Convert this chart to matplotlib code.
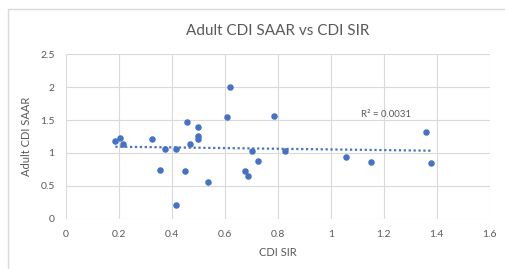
import numpy as np
import matplotlib
matplotlib.use("Agg")
from matplotlib import pyplot as plt
from matplotlib.patches import Rectangle

# data
cdi_sir = [0.187, 0.206, 0.215, 0.326, 0.356, 0.375, 0.416, 0.416, 0.449, 0.457,
           0.468, 0.499, 0.499, 0.499, 0.535, 0.608, 0.618, 0.678, 0.686, 0.704,
           0.727, 0.787, 0.828, 1.057, 1.150, 1.360, 1.379]
cdi_saar = [1.176, 1.232, 1.136, 1.212, 0.745, 1.065, 1.065, 0.213, 0.730, 1.470,
            1.136, 1.389, 1.263, 1.212, 0.563, 1.547, 2.008, 0.730, 0.654, 1.024,
            0.877, 1.562, 1.024, 0.933, 0.857, 1.324, 0.842]
r2_label = "R² = 0.0031"

plt.rcParams['font.family'] = ['Lato', 'DejaVu Sans']
txt = "#595959"
blue = "#4472C4"

fig = plt.figure(figsize=(5.06, 2.69), dpi=100)
fig.patches.append(Rectangle((0.016, -0.01), 0.99, 0.975, transform=fig.transFigure,
                             fill=False, edgecolor="#d9d9d9", linewidth=1))
ax = fig.add_axes([0.130, 0.187, 0.838, 0.611])

x = np.array(cdi_sir)
y = np.array(cdi_saar)
ax.scatter(x, y, s=22, color=blue, zorder=3, linewidths=0)

# linear trendline
m, b = np.polyfit(x, y, 1)
xs = np.array([x.min(), x.max()])
ax.plot(xs, m * xs + b, color=blue, linestyle=(0, (1, 1.2)), linewidth=1.6, zorder=2)
ax.text(1.21, 1.59, r2_label, color=txt, fontsize=7, ha="center", va="center")

ax.set_xlim(0, 1.6)
ax.set_ylim(0, 2.5)
ax.set_xticks(np.arange(0, 1.61, 0.2))
ax.set_yticks(np.arange(0, 2.51, 0.5))
ax.set_xticklabels(["0", "0.2", "0.4", "0.6", "0.8", "1", "1.2", "1.4", "1.6"])
ax.set_yticklabels(["0", "0.5", "1", "1.5", "2", "2.5"])
ax.grid(True, color="#d9d9d9", linewidth=0.8)
ax.set_axisbelow(True)
for s in ax.spines.values():
    s.set_visible(False)
ax.tick_params(length=0, labelsize=7.5, colors=txt, pad=8)

ax.set_title("Adult CDI SAAR vs CDI SIR", fontsize=11, color=txt, pad=14)
ax.set_xlabel("CDI SIR", fontsize=8, color=txt, labelpad=6)
ax.set_ylabel("Adult CDI SAAR", fontsize=8, color=txt, labelpad=6)

fig.savefig("out.png", dpi=100)
